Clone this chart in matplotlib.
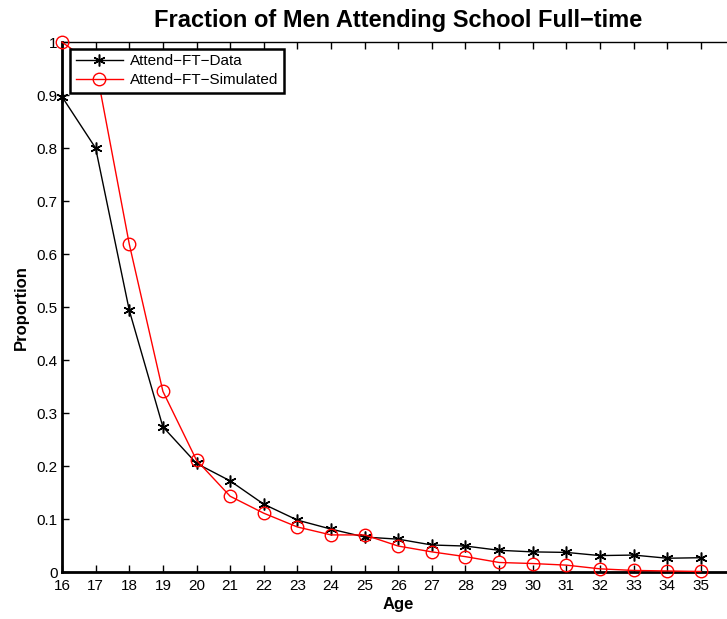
import numpy as np
import matplotlib.pyplot as plt

plt.rcParams['font.family'] = ['Liberation Sans', 'DejaVu Sans']

ages = list(range(16, 36))
attend_data = [0.897, 0.800, 0.494, 0.274, 0.205, 0.172, 0.128, 0.098, 0.081, 0.066,
               0.062, 0.051, 0.049, 0.041, 0.038, 0.037, 0.031, 0.032, 0.026, 0.027]
attend_sim = [1.000, 0.955, 0.619, 0.341, 0.211, 0.143, 0.111, 0.085, 0.070, 0.070,
              0.049, 0.038, 0.029, 0.018, 0.016, 0.013, 0.006, 0.003, 0.002, 0.001]
yticks = [0, 0.1, 0.2, 0.3, 0.4, 0.5, 0.6, 0.7, 0.8, 0.9, 1]
ytick_labels = ['0', '0.1', '0.2', '0.3', '0.4', '0.5', '0.6', '0.7', '0.8', '0.9', '1']

fig = plt.figure(figsize=(7.27, 6.19), dpi=100)
# axes run a little past the right edge of the figure
ax = fig.add_axes([0.0853, 0.0759, 0.925, 0.856])

# matlab style asterisk: six thin arms
star = (6, 2, 0)
ax.plot(ages, attend_data, color='black', lw=1, marker=star, ms=8.5, mew=1.1,
        label='Attend\u2212FT\u2212Data', clip_on=False, zorder=3)
ax.plot(ages, attend_sim, color='red', lw=1, marker='o', ms=9, mfc='none',
        mew=1, label='Attend\u2212FT\u2212Simulated', clip_on=False, zorder=3)

ax.set_xlim(16, 36)
ax.set_ylim(0, 1)
ax.set_xticks(ages)
ax.set_xticklabels([str(a) for a in ages])
ax.set_yticks(yticks)
ax.set_yticklabels(ytick_labels)
ax.tick_params(direction='in', length=5, top=True, right=False, labelsize=11,
               width=1, pad=3)
ax.tick_params(axis='x', pad=5)

ax.spines['left'].set_linewidth(2)
ax.spines['bottom'].set_linewidth(2)
ax.spines['top'].set_linewidth(1)
ax.spines['right'].set_visible(False)

ax.set_title('Fraction of Men Attending School Full\u2212time', fontsize=17,
             fontweight='bold', pad=11)
ax.set_xlabel('Age', fontsize=12, fontweight='bold', labelpad=3)
ax.set_ylabel('Proportion', fontsize=12, fontweight='bold', labelpad=6)

leg = ax.legend(loc='upper left', bbox_to_anchor=(0.0125, 0.988), fontsize=11,
                frameon=True, fancybox=False, framealpha=1, borderpad=0.35,
                labelspacing=0.35, handlelength=3.1, handletextpad=0.45,
                borderaxespad=0)
leg.get_frame().set_edgecolor('black')
leg.get_frame().set_linewidth(1.8)
leg.set_zorder(10)

fig.savefig('out.png', dpi=100)
